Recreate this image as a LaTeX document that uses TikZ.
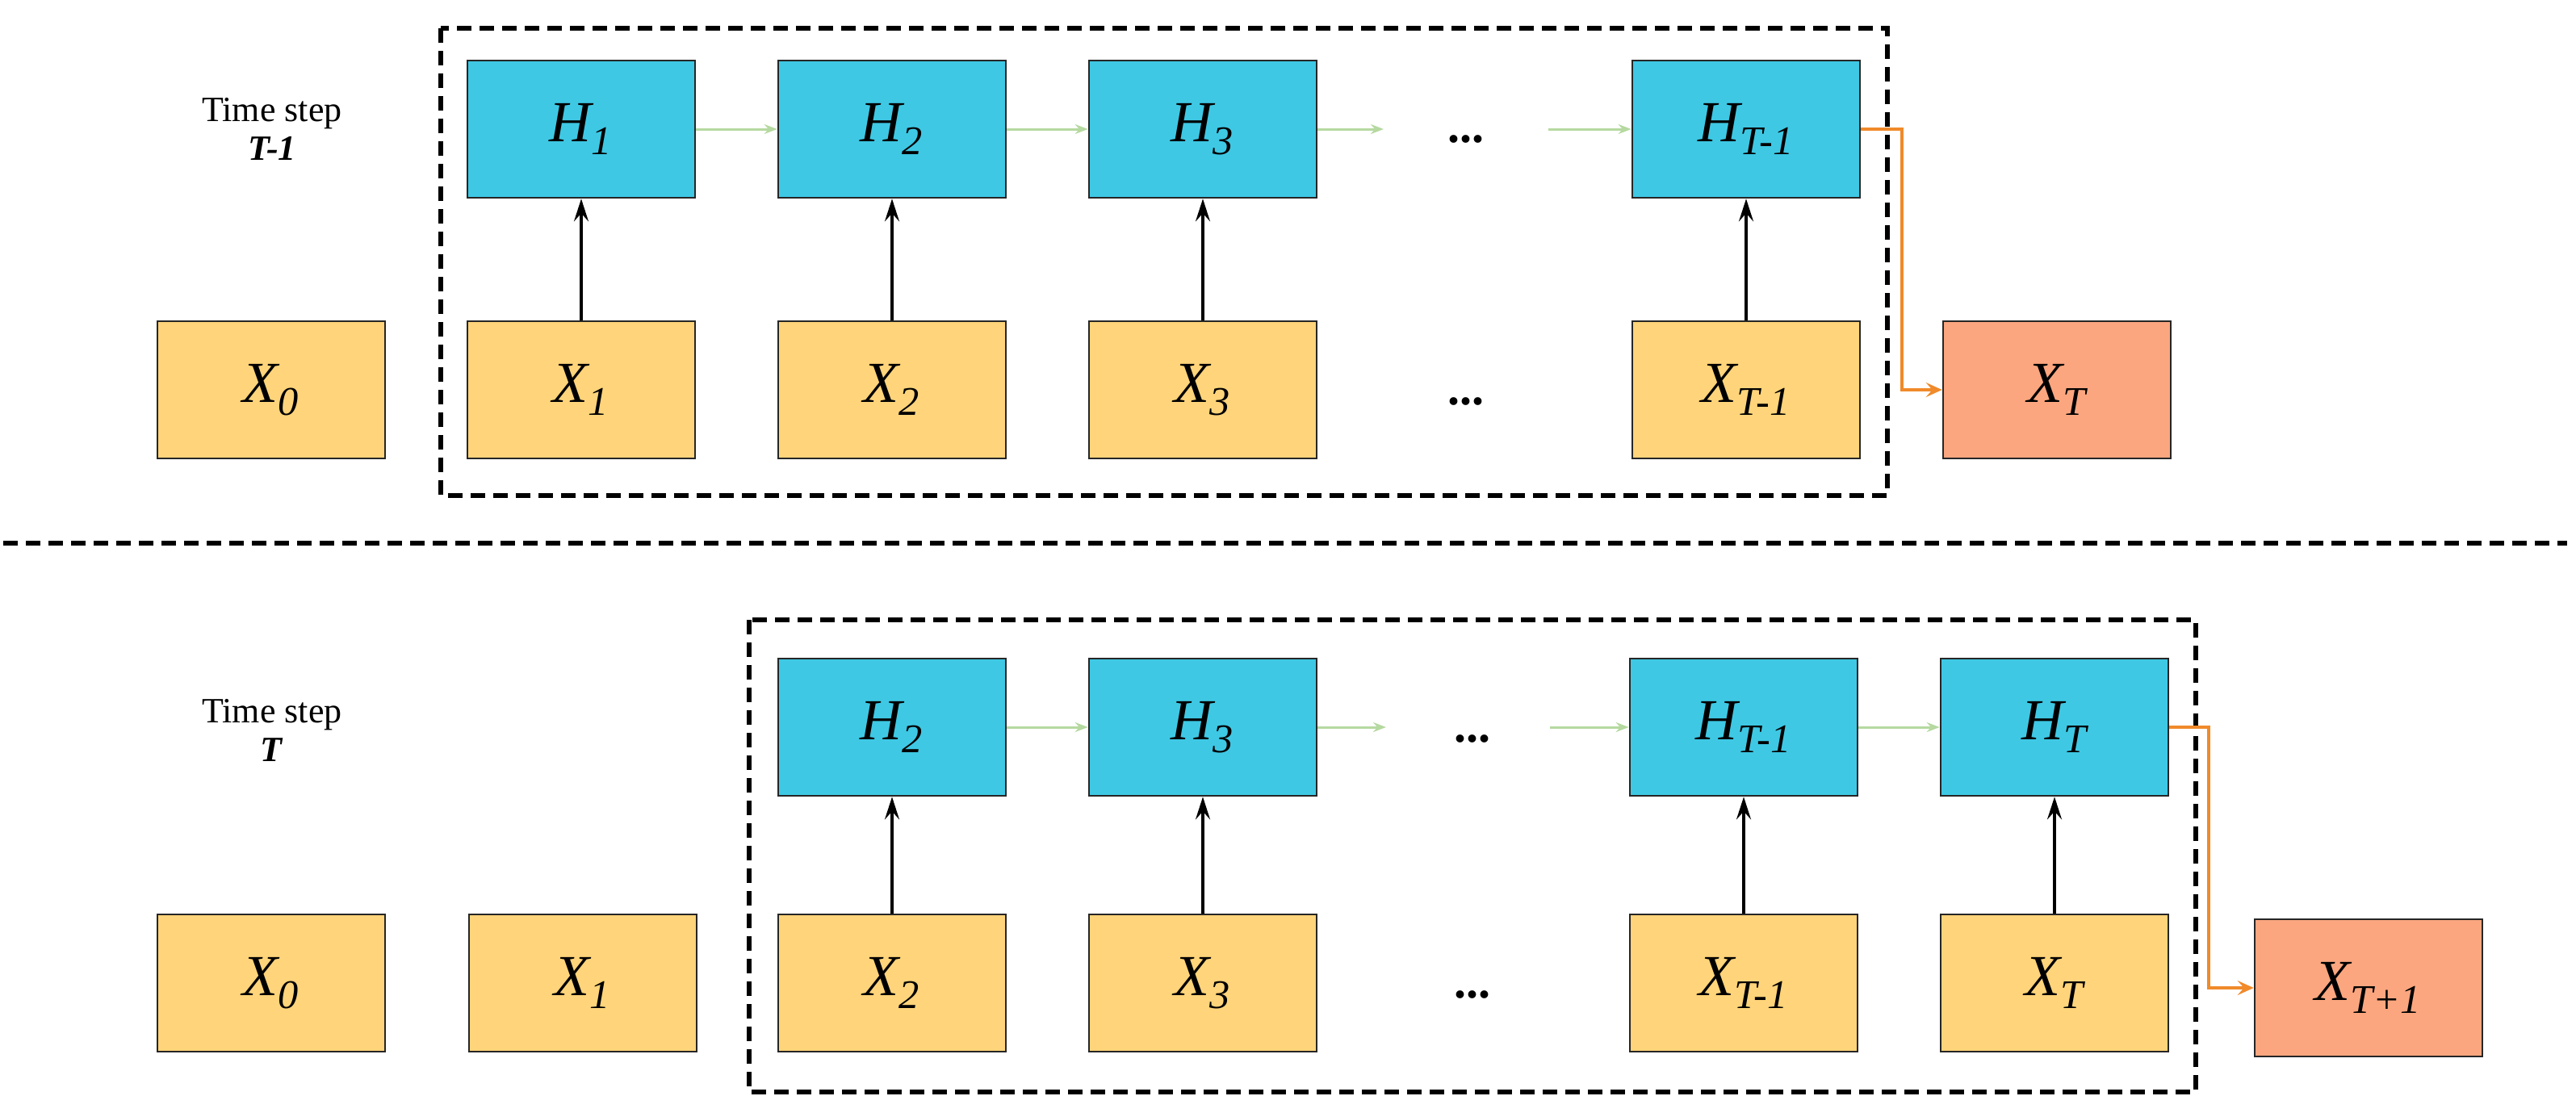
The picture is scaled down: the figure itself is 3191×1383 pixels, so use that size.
\documentclass[tikz,border=0pt]{standalone}
\usepackage{fontspec}
\setmainfont{Liberation Serif}
\usetikzlibrary{arrows.meta}
\definecolor{hb}{HTML}{3EC8E4}
\definecolor{xy}{HTML}{FFD47A}
\definecolor{xo}{HTML}{FBA67F}
\definecolor{gr}{HTML}{B5D9A0}
\definecolor{orl}{HTML}{F08A2A}
\newcommand{\lbl}[2]{#1\textsubscript{#2}}
\begin{document}
\begin{tikzpicture}[x=0.5pt,y=-0.5pt,
 box/.style={draw=black!85,line width=1.3pt,minimum width=141pt,minimum height=85pt,inner sep=0pt,font=\fontsize{36}{40}\selectfont\itshape},
 hbox/.style={box,fill=hb},
 xbox/.style={box,fill=xy},
 obox/.style={box,fill=xo},
 garr/.style={draw=gr,line width=1.5pt,-{Stealth[length=8pt,width=6pt]}},
 barr/.style={draw=black,line width=1.6pt,-{Stealth[length=14pt,width=9pt,inset=5pt]}},
 oarr/.style={draw=orl,line width=2pt,-{Stealth[length=10pt,width=9pt,inset=4pt]}},
 dbox/.style={draw=black,line width=3pt,dash pattern=on 9pt off 5pt},
 dots/.style={font=\fontsize{30}{30}\selectfont\bfseries},
 lab/.style={font=\fontsize{22}{26}\selectfont,align=center}]
\useasboundingbox (0,0) rectangle (3191,1383);
% top
\draw[dbox] (546,35) rectangle (2338,614);
\node[lab] (t1) at (337,160) {Time step\\[-2pt]\textbf{\textit{T-1}}};
\node[hbox] (aH1) at (720,160) {\lbl{H}{1}};
\node[hbox] (aH2) at (1105,160) {\lbl{H}{2}};
\node[hbox] (aH3) at (1490,160) {\lbl{H}{3}};
\node[dots] (ad1) at (1816,172) {...};
\node[hbox] (aHT1) at (2163,160) {\lbl{H}{T-1}};
\node[xbox] (aX0) at (336,483) {\lbl{X}{0}};
\node[xbox] (aX1) at (720,483) {\lbl{X}{1}};
\node[xbox] (aX2) at (1105,483) {\lbl{X}{2}};
\node[xbox] (aX3) at (1490,483) {\lbl{X}{3}};
\node[dots] (ad2) at (1816,497) {...};
\node[xbox] (aXT1) at (2163,483) {\lbl{X}{T-1}};
\node[obox] (aXT) at (2548,483) {\lbl{X}{T}};
\coordinate (ag1) at (1714,160);
\coordinate (ag2) at (1918,160);
\coordinate (ao1) at (2356,160);
\coordinate (ao2) at (2356,483);
\draw[garr] (aH1) -- (aH2);
\draw[garr] (aH2) -- (aH3);
\draw[garr] (aH3) -- (ag1);
\draw[garr] (ag2) -- (aHT1);
\draw[barr] (aX1) -- (aH1);
\draw[barr] (aX2) -- (aH2);
\draw[barr] (aX3) -- (aH3);
\draw[barr] (aXT1) -- (aHT1);
\draw[oarr] (aHT1.east) -- (ao1) -- (ao2) -- (aXT.west);
% separator
\coordinate (s1) at (4,673);
\coordinate (s2) at (3180,673);
\draw[dbox] (s1) -- (s2);
% bottom
\draw[dbox] (928,768) rectangle (2720,1353);
\node[lab] (t2) at (337,905) {Time step\\[-2pt]\textbf{\textit{T}}};
\node[hbox] (bH2) at (1105,901) {\lbl{H}{2}};
\node[hbox] (bH3) at (1490,901) {\lbl{H}{3}};
\node[dots] (bd1) at (1824,915) {...};
\node[hbox] (bHT1) at (2160,901) {\lbl{H}{T-1}};
\node[hbox] (bHT) at (2545,901) {\lbl{H}{T}};
\node[xbox] (bX0) at (336,1218) {\lbl{X}{0}};
\node[xbox] (bX1) at (722,1218) {\lbl{X}{1}};
\node[xbox] (bX2) at (1105,1218) {\lbl{X}{2}};
\node[xbox] (bX3) at (1490,1218) {\lbl{X}{3}};
\node[dots] (bd2) at (1824,1232) {...};
\node[xbox] (bXT1) at (2160,1218) {\lbl{X}{T-1}};
\node[xbox] (bXT) at (2545,1218) {\lbl{X}{T}};
\node[obox] (bXT2) at (2934,1224) {\lbl{X}{T+1}};
\coordinate (bg1) at (1717,901);
\coordinate (bg2) at (1920,901);
\coordinate (bo1) at (2736,901);
\coordinate (bo2) at (2736,1224);
\draw[garr] (bH2) -- (bH3);
\draw[garr] (bH3) -- (bg1);
\draw[garr] (bg2) -- (bHT1);
\draw[garr] (bHT1) -- (bHT);
\draw[barr] (bX2) -- (bH2);
\draw[barr] (bX3) -- (bH3);
\draw[barr] (bXT1) -- (bHT1);
\draw[barr] (bXT) -- (bHT);
\draw[oarr] (bHT.east) -- (bo1) -- (bo2) -- (bXT2.west);
\end{tikzpicture}
\end{document}
